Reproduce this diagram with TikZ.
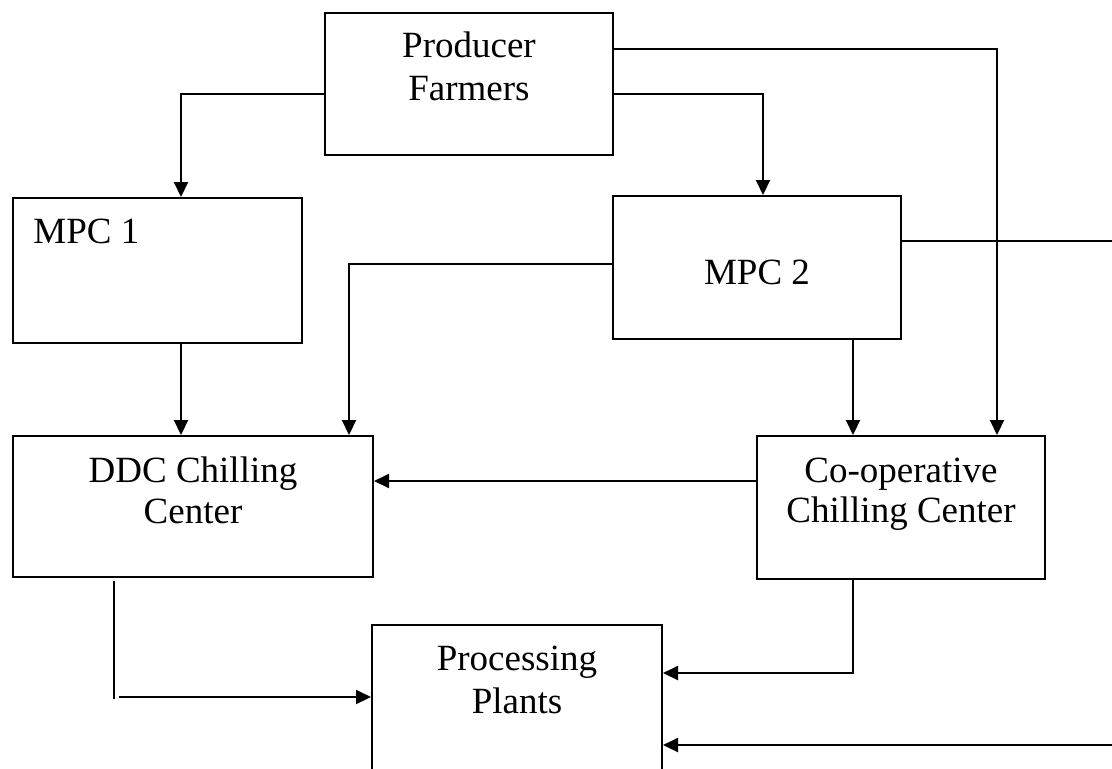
\documentclass[tikz,border=0pt]{standalone}
\usepackage{fontspec}
\setmainfont{Liberation Serif}
\usetikzlibrary{arrows.meta}

\begin{document}
\begin{tikzpicture}[x=0.5pt,y=-0.5pt,
    box/.style={draw,line width=1pt,inner sep=0pt},
    txt/.style={anchor=base,inner sep=0pt,font=\fontsize{18.5}{20.5}\selectfont},
    arr/.style={line width=1pt,-{Triangle[length=7.5pt,width=7pt]}}]
    \useasboundingbox (0,0) rectangle (1112,768);
    % boxes
    \node[box,minimum width=144pt,minimum height=71pt] (pf) at (469,84) {};
    \node[box,minimum width=144.5pt,minimum height=72.5pt] (mpc1) at (157.5,270.5) {};
    \node[box,minimum width=144pt,minimum height=71.5pt] (mpc2) at (757,267.5) {};
    \node[box,minimum width=180pt,minimum height=70.5pt] (ddc) at (193,506.5) {};
    \node[box,minimum width=144pt,minimum height=71.5pt] (coop) at (901,507.5) {};
    \node[box,minimum width=145pt,minimum height=82.5pt] (pp) at (517,707.5) {};
    % labels
    \node[txt] (pf1) at (469,57) {Producer};
    \node[txt] (pf2) at (469,100) {Farmers};
    \node[txt,anchor=base west] (mpc1t) at (33,243) {MPC 1};
    \node[txt] (mpc2t) at (757,284) {MPC 2};
    \node[txt] (ddc1) at (193,482) {DDC Chilling};
    \node[txt] (ddc2) at (193,523) {Center};
    \node[txt] (coop1) at (901,482) {Co-operative};
    \node[txt] (coop2) at (901,522) {Chilling Center};
    \node[txt] (pp1) at (517,670) {Processing};
    \node[txt] (pp2) at (517,713) {Plants};
    % loose ends
    \coordinate (outA) at (1112,241);
    \coordinate (outB) at (1112,745);
    \coordinate (dropA) at (114,699);
    \coordinate (dropB) at (119,697);
    % connectors
    \draw[arr] (pf.west |- 0,94) -| (mpc1.north -| 181,0);
    \draw[arr] (pf.east |- 0,94) -| (mpc2.north -| 763,0);
    \draw[arr] (pf.east |- 0,49) -| (coop.north -| 997,0);
    \draw[line width=1pt] (mpc2.east |- outA) -- (outA);
    \draw[arr] (mpc2.west |- 0,264) -| (ddc.north -| 349,0);
    \draw[arr] (mpc1.south -| 181,0) -- (ddc.north -| 181,0);
    \draw[arr] (mpc2.south -| 853,0) -- (coop.north -| 853,0);
    \draw[arr] (coop.west |- 0,481) -- (ddc.east |- 0,481);
    \draw[line width=.6pt] ([yshift=-1.5pt]ddc.south -| dropA) -- (dropA);
    \draw[arr] (dropB) -- (pp.west |- dropB);
    \draw[arr] (coop.south -| 853,0) |- (pp.east |- 0,673);
    \draw[arr] (outB) -- (pp.east |- outB);
\end{tikzpicture}
\end{document}
